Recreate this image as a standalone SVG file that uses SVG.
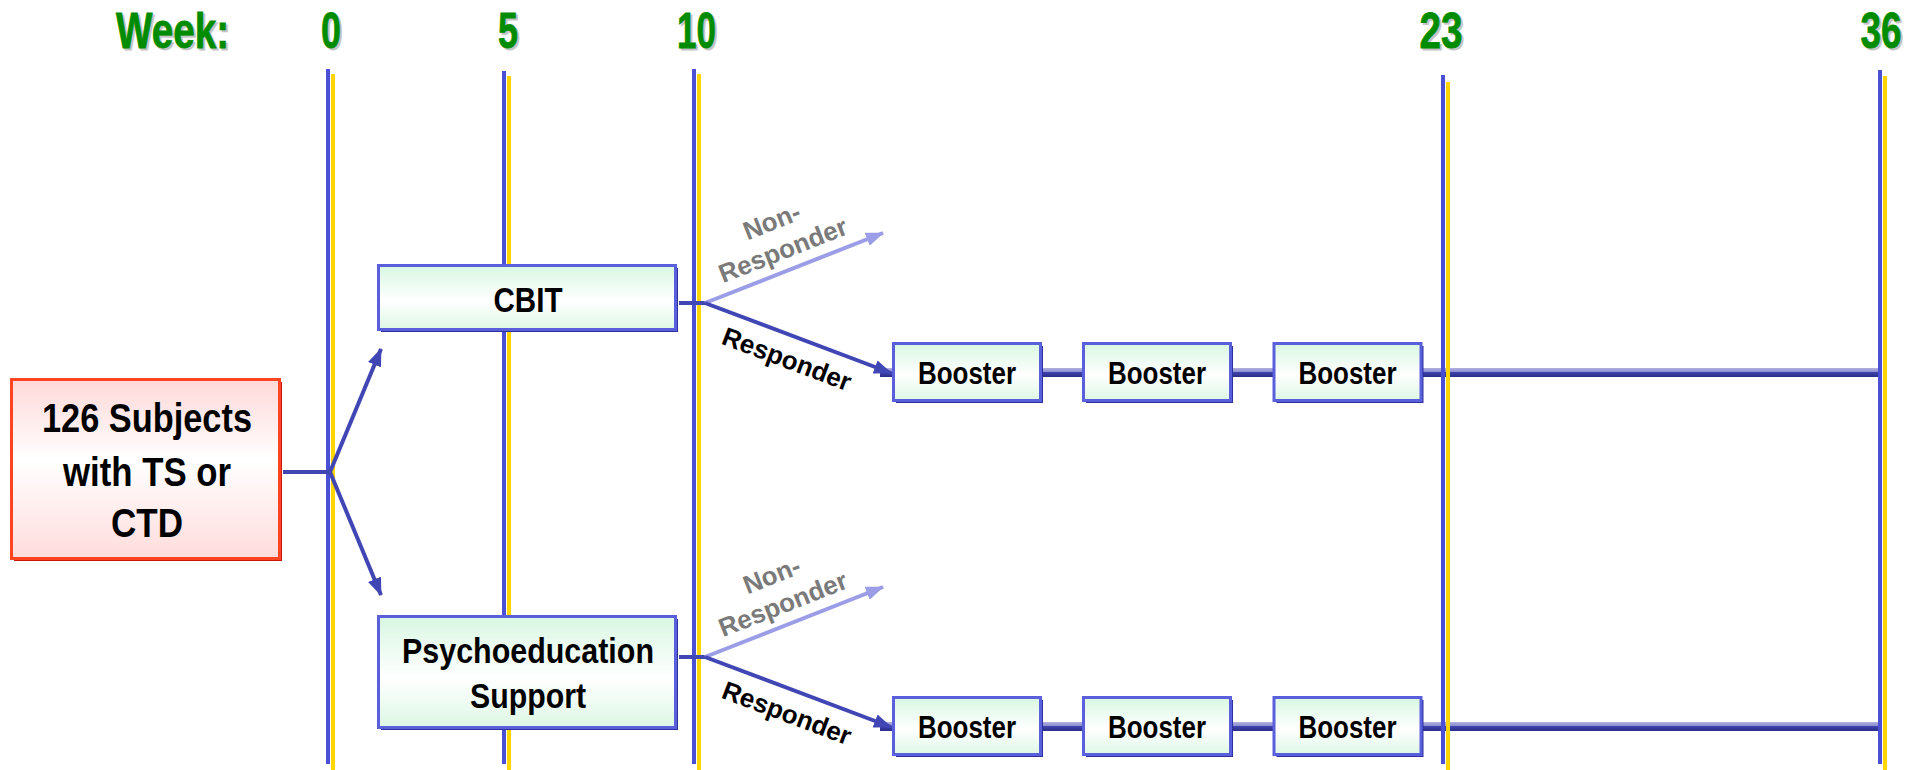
<svg xmlns="http://www.w3.org/2000/svg" width="1923" height="770" viewBox="0 0 1923 770">
<style>
.wk{font-family:"Liberation Sans",Arial,sans-serif;font-weight:bold;font-size:50px;fill:#008C00;stroke:#008C00;stroke-width:0.8;text-anchor:middle}
.wks{font-family:"Liberation Sans",Arial,sans-serif;font-weight:bold;font-size:50px;fill:#c4c4c4;stroke:#c4c4c4;stroke-width:0.8;text-anchor:middle}
.bt{font-family:"Liberation Sans",Arial,sans-serif;font-weight:bold;fill:#000;text-anchor:middle}
.lbl{font-family:"Liberation Sans",Arial,sans-serif;font-weight:bold;font-size:26px;text-anchor:middle}
.vb{stroke:#4A4FD4;stroke-width:4}
.vy{stroke:#FFD500;stroke-width:4}
.conn{stroke:#4146B5;stroke-width:4;fill:none}
.nonr{stroke:#9B9DE6;stroke-width:4;fill:none}
.gbox{fill:url(#gGreen);stroke:#5A5FDB;stroke-width:3}
.gsh{fill:#2D319E}
</style>
<defs>
<linearGradient id="gGreen" x1="0" y1="0" x2="0" y2="1">
<stop offset="0" stop-color="#D8F7E2"/><stop offset="0.55" stop-color="#FFFFFF"/><stop offset="1" stop-color="#DDF7E5"/>
</linearGradient>
<linearGradient id="gRed" x1="0" y1="0" x2="0" y2="1">
<stop offset="0" stop-color="#FFD8D8"/><stop offset="0.45" stop-color="#FFFFFF"/><stop offset="1" stop-color="#FFDCDC"/>
</linearGradient>
<linearGradient id="gBar" x1="0" y1="0" x2="0" y2="1">
<stop offset="0" stop-color="#B0B0DE"/><stop offset="0.4" stop-color="#8E90D2"/><stop offset="0.5" stop-color="#3E42AA"/><stop offset="1" stop-color="#2A2D88"/>
</linearGradient>
<marker id="aDark" markerUnits="userSpaceOnUse" markerWidth="18" markerHeight="14" refX="17" refY="7" orient="auto">
<path d="M0,0 L18,7 L0,14 z" fill="#4146B5"/>
</marker>
<marker id="aLight" markerUnits="userSpaceOnUse" markerWidth="18" markerHeight="14" refX="17" refY="7" orient="auto">
<path d="M0,0 L18,7 L0,14 z" fill="#9B9DE6"/>
</marker>
</defs>

<g id="week-labels">
<text class="wks" x="174.5" y="50" textLength="113" lengthAdjust="spacingAndGlyphs">Week:</text>
<text class="wk" x="172.5" y="48" textLength="113" lengthAdjust="spacingAndGlyphs">Week:</text>
<text class="wks" x="333" y="50" textLength="20" lengthAdjust="spacingAndGlyphs">0</text>
<text class="wk" x="331" y="48" textLength="20" lengthAdjust="spacingAndGlyphs">0</text>
<text class="wks" x="510" y="50" textLength="20" lengthAdjust="spacingAndGlyphs">5</text>
<text class="wk" x="508" y="48" textLength="20" lengthAdjust="spacingAndGlyphs">5</text>
<text class="wks" x="698.5" y="50" textLength="39" lengthAdjust="spacingAndGlyphs">10</text>
<text class="wk" x="696.5" y="48" textLength="39" lengthAdjust="spacingAndGlyphs">10</text>
<text class="wks" x="1443" y="50" textLength="43" lengthAdjust="spacingAndGlyphs">23</text>
<text class="wk" x="1441" y="48" textLength="43" lengthAdjust="spacingAndGlyphs">23</text>
<text class="wks" x="1883" y="50" textLength="41" lengthAdjust="spacingAndGlyphs">36</text>
<text class="wk" x="1881" y="48" textLength="41" lengthAdjust="spacingAndGlyphs">36</text>
</g>

<g id="bars">
<rect x="880" y="368" width="1000" height="9" fill="url(#gBar)"/>
<rect x="880" y="722" width="1000" height="9" fill="url(#gBar)"/>
</g>

<g id="timeline">
<line class="vb" x1="328" y1="69" x2="328" y2="764"/><line class="vy" x1="333" y1="74" x2="333" y2="770"/>
<line class="vb" x1="504" y1="71" x2="504" y2="764"/><line class="vy" x1="509" y1="76" x2="509" y2="770"/>
<line class="vb" x1="694" y1="69" x2="694" y2="764"/><line class="vy" x1="699" y1="74" x2="699" y2="770"/>
<line class="vb" x1="1443" y1="75" x2="1443" y2="764"/><line class="vy" x1="1448" y1="82" x2="1448" y2="770"/>
<line class="vb" x1="1880" y1="70" x2="1880" y2="764"/><line class="vy" x1="1885" y1="76" x2="1885" y2="770"/>
</g>

<g id="connectors">
<line class="conn" x1="283" y1="472" x2="331" y2="472"/>
<line class="conn" x1="330" y1="472" x2="381" y2="349" marker-end="url(#aDark)"/>
<line class="conn" x1="330" y1="472" x2="381" y2="595" marker-end="url(#aDark)"/>
<line class="conn" x1="679" y1="303" x2="706" y2="303"/>
<line class="nonr" x1="705" y1="303" x2="883" y2="233" marker-end="url(#aLight)"/>
<line class="conn" x1="705" y1="303" x2="891" y2="373" marker-end="url(#aDark)"/>
<line class="conn" x1="679" y1="657" x2="706" y2="657"/>
<line class="nonr" x1="705" y1="657" x2="883" y2="587" marker-end="url(#aLight)"/>
<line class="conn" x1="705" y1="657" x2="891" y2="727" marker-end="url(#aDark)"/>
<g transform="translate(783,250) rotate(-21.5)">
<text class="lbl" fill="#7A7A7A" x="0" y="-22">Non-</text>
<text class="lbl" fill="#7A7A7A" x="0" y="9">Responder</text>
</g>
<g transform="translate(787,359) rotate(20.7)">
<text class="lbl" fill="#000" x="0" y="9">Responder</text>
</g>
<g transform="translate(783,604) rotate(-21.5)">
<text class="lbl" fill="#7A7A7A" x="0" y="-22">Non-</text>
<text class="lbl" fill="#7A7A7A" x="0" y="9">Responder</text>
</g>
<g transform="translate(787,713) rotate(20.7)">
<text class="lbl" fill="#000" x="0" y="9">Responder</text>
</g>
</g>

<g id="subjects">
<rect x="14" y="382" width="268" height="179" fill="#C81800"/>
<rect x="11.5" y="379.5" width="268" height="179" fill="url(#gRed)" stroke="#FF4422" stroke-width="3"/>
<text class="bt" x="147" y="432" font-size="40" textLength="210" lengthAdjust="spacingAndGlyphs">126 Subjects</text>
<text class="bt" x="147" y="486" font-size="40" textLength="168" lengthAdjust="spacingAndGlyphs">with TS or</text>
<text class="bt" x="147" y="537" font-size="40" textLength="72" lengthAdjust="spacingAndGlyphs">CTD</text>
</g>

<g id="cbit">
<rect class="gsh" x="381" y="268" width="297" height="64"/>
<rect class="gbox" x="378.5" y="265.5" width="297" height="64"/>
<text class="bt" x="528" y="312" font-size="35" textLength="69" lengthAdjust="spacingAndGlyphs">CBIT</text>
</g>

<g id="psychoeducation">
<rect class="gsh" x="381" y="619" width="297" height="111"/>
<rect class="gbox" x="378.5" y="616.5" width="297" height="111"/>
<text class="bt" x="528" y="663" font-size="35" textLength="252" lengthAdjust="spacingAndGlyphs">Psychoeducation</text>
<text class="bt" x="528" y="708" font-size="35" textLength="116" lengthAdjust="spacingAndGlyphs">Support</text>
</g>

<g id="booster-cbit-1">
<rect class="gsh" x="896" y="346" width="147" height="57"/>
<rect class="gbox" x="893.5" y="343.5" width="147" height="57"/>
<text class="bt" x="967" y="384" font-size="31" textLength="98" lengthAdjust="spacingAndGlyphs">Booster</text>
</g>
<g id="booster-cbit-2">
<rect class="gsh" x="1086" y="346" width="147" height="57"/>
<rect class="gbox" x="1083.5" y="343.5" width="147" height="57"/>
<text class="bt" x="1157" y="384" font-size="31" textLength="98" lengthAdjust="spacingAndGlyphs">Booster</text>
</g>
<g id="booster-cbit-3">
<rect class="gsh" x="1276.5" y="346" width="147" height="57"/>
<rect class="gbox" x="1274" y="343.5" width="147" height="57"/>
<text class="bt" x="1347.5" y="384" font-size="31" textLength="98" lengthAdjust="spacingAndGlyphs">Booster</text>
</g>
<g id="booster-pe-1">
<rect class="gsh" x="896" y="700" width="147" height="57"/>
<rect class="gbox" x="893.5" y="697.5" width="147" height="57"/>
<text class="bt" x="967" y="738" font-size="31" textLength="98" lengthAdjust="spacingAndGlyphs">Booster</text>
</g>
<g id="booster-pe-2">
<rect class="gsh" x="1086" y="700" width="147" height="57"/>
<rect class="gbox" x="1083.5" y="697.5" width="147" height="57"/>
<text class="bt" x="1157" y="738" font-size="31" textLength="98" lengthAdjust="spacingAndGlyphs">Booster</text>
</g>
<g id="booster-pe-3">
<rect class="gsh" x="1276.5" y="700" width="147" height="57"/>
<rect class="gbox" x="1274" y="697.5" width="147" height="57"/>
<text class="bt" x="1347.5" y="738" font-size="31" textLength="98" lengthAdjust="spacingAndGlyphs">Booster</text>
</g>
</svg>
